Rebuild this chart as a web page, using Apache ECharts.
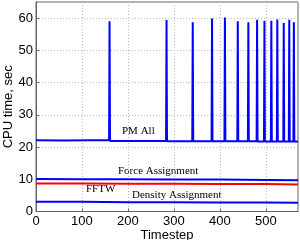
<!DOCTYPE html>
<html><head><meta charset="utf-8">
<script src="https://cdn.jsdelivr.net/npm/echarts@6/dist/echarts.min.js"></script>
<style>html,body{margin:0;padding:0;background:#fff}#c{width:300px;height:240px}</style>
</head><body><div id="c"></div>
<script>
// PM All: baseline with spikes (timestep, seconds)
const pmX = [0, 60, 120, 159, 160, 161, 220, 283, 284, 285, 340, 341, 342, 382, 383, 384, 410, 411, 412, 438, 439, 440, 461, 462, 463, 480, 481, 482, 496, 497, 498, 511, 512, 513, 524, 525, 526, 538, 539, 540, 550, 551, 552, 560, 561, 562, 570];
const pmY = [22.1, 22.0, 22.1, 22.1, 59.0, 21.9, 21.9, 21.9, 59.4, 21.8, 21.8, 58.7, 21.8, 21.8, 59.9, 21.8, 21.8, 60.2, 21.8, 21.8, 59.0, 21.8, 21.8, 58.7, 21.8, 21.8, 59.5, 21.7, 21.7, 59.2, 21.7, 21.7, 59.2, 21.7, 21.7, 59.6, 21.7, 21.7, 58.5, 21.7, 21.7, 59.5, 21.7, 21.7, 58.7, 21.7, 21.7];
const forceX = [0, 100, 200, 300, 400, 500, 570];
const forceY = [10.1, 10.0, 10.0, 9.9, 9.9, 9.8, 9.7];
const fftwX = [0, 100, 200, 300, 400, 500, 570];
const fftwY = [8.7, 8.7, 8.6, 8.6, 8.5, 8.5, 8.4];
const densX = [0, 100, 200, 300, 400, 500, 570];
const densY = [3.0, 3.0, 2.9, 2.9, 2.8, 2.8, 2.7];
const xTicks = [0, 100, 200, 300, 400, 500];
const yTicks = [0, 10, 20, 30, 40, 50, 60];

const zip = (a, b) => a.map((v, i) => [v, b[i]]);
const chart = echarts.init(document.getElementById('c'), null, {renderer: 'canvas'});
const sans = 'Liberation Sans, Arial, sans-serif';
const serif = 'Liberation Serif, Times New Roman, serif';
const grid = {left: 36, right: 2, top: 2, bottom: 28.5, show: true, borderColor: '#666', borderWidth: 1, containLabel: false, outerBoundsMode: 'none'};
const gl = {show: true, lineStyle: {color: '#bbb', type: [1, 2], width: 1}};
chart.setOption({
  animation: false,
  grid,
  xAxis: {type: 'value', min: 0, max: 570, interval: 100,
    name: 'Timestep', nameLocation: 'middle', nameGap: 17, nameMoveOverlap: false,
    nameTextStyle: {fontFamily: sans, fontSize: 13, color: '#000'},
    axisLine: {lineStyle: {color: '#666'}},
    axisTick: {inside: true, length: 3, lineStyle: {color: '#666'}},
    axisLabel: {fontFamily: sans, fontSize: 13, color: '#000', margin: 3,
      showMaxLabel: false,
      formatter: v => xTicks.includes(v) ? String(v) : ''},
    splitLine: gl},
  yAxis: {type: 'value', min: 0, max: 65, interval: 10,
    name: 'CPU time, sec', nameLocation: 'middle', nameGap: 21, nameMoveOverlap: false,
    nameTextStyle: {fontFamily: sans, fontSize: 13, color: '#000'},
    axisLine: {show: true, lineStyle: {color: '#666'}},
    axisTick: {inside: true, length: 3, lineStyle: {color: '#666'}},
    axisLabel: {fontFamily: sans, fontSize: 13, color: '#000', margin: 3,
      showMaxLabel: false,
      formatter: v => yTicks.includes(v) ? String(v) : ''},
    splitLine: gl},
  series: [
    {type: 'line', data: zip(pmX, pmY), symbol: 'none', lineStyle: {color: '#0000ff', width: 2}},
    {type: 'line', data: zip(forceX, forceY), symbol: 'none', lineStyle: {color: '#0000ff', width: 2}},
    {type: 'line', data: zip(fftwX, fftwY), symbol: 'none', lineStyle: {color: '#ff0000', width: 2}},
    {type: 'line', data: zip(densX, densY), symbol: 'none', lineStyle: {color: '#0000ff', width: 2}}
  ],
  graphic: [
    {type: 'text', left: 122, top: 125.5, style: {text: 'PM All', font: '11px ' + serif, fill: '#000'}},
    {type: 'text', left: 118, top: 165.5, style: {text: 'Force Assignment', font: '11px ' + serif, fill: '#000'}},
    {type: 'text', left: 86, top: 183.5, style: {text: 'FFTW', font: '11px ' + serif, fill: '#000'}},
    {type: 'text', left: 132, top: 189.5, style: {text: 'Density Assignment', font: '11px ' + serif, fill: '#000'}}
  ]
});
</script></body></html>
